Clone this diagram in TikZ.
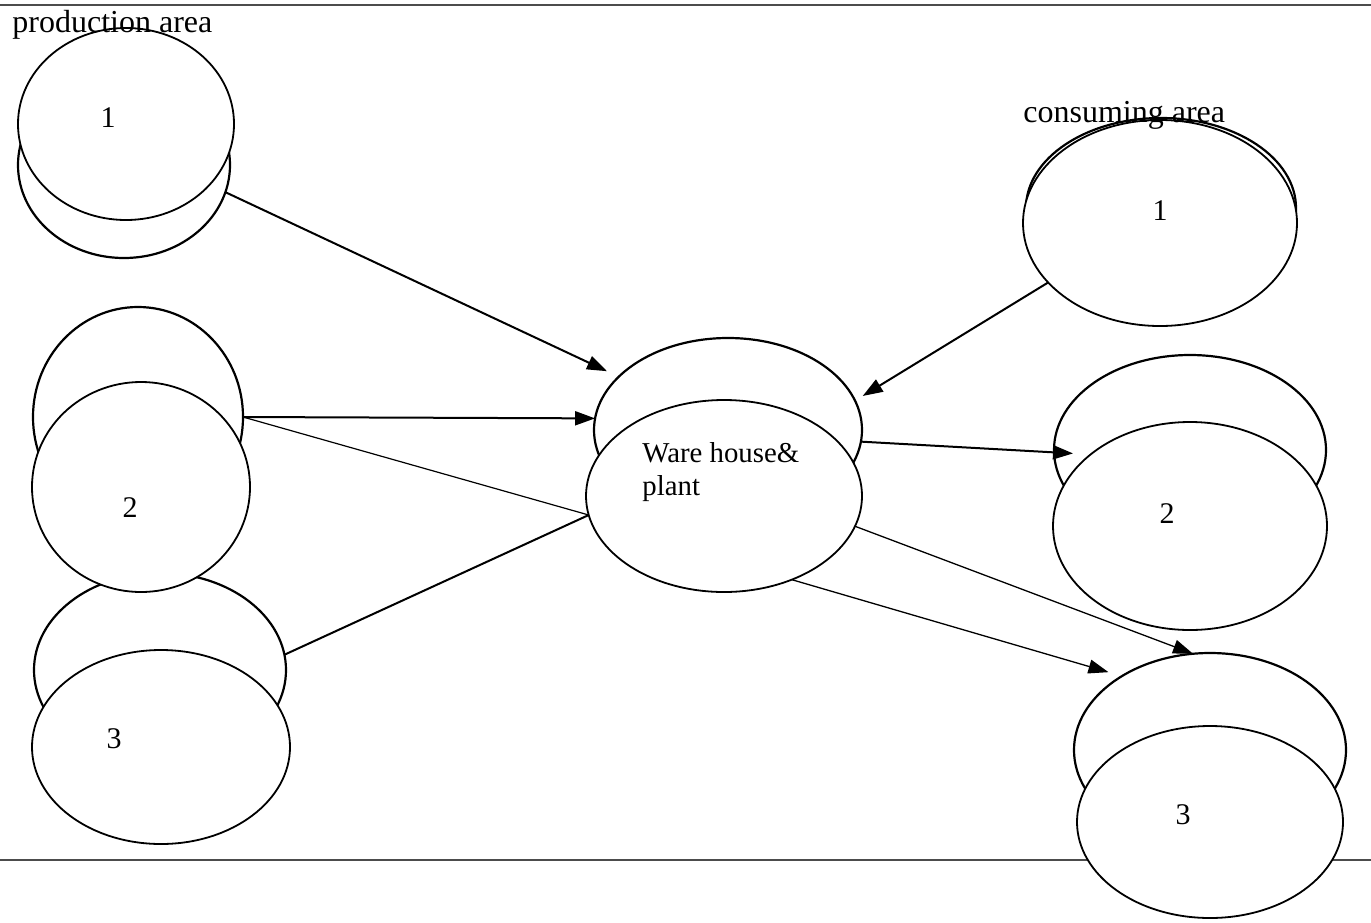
\documentclass[tikz,border=0pt]{standalone}
\usepackage{fontspec}
\setmainfont{Liberation Serif}
\usetikzlibrary{shapes.geometric,arrows.meta}

\begin{document}
\begin{tikzpicture}[x=0.5pt,y=-0.5pt,
  backdisc/.style={ellipse, draw, line width=1.1pt, inner sep=0pt, outer sep=0pt},
  frontdisc/.style={ellipse, draw, fill=white, line width=0.9pt, inner sep=0pt, outer sep=0pt},
  num/.style={anchor=base, inner sep=0pt, font=\fontsize{15}{18}\selectfont},
  areatitle/.style={anchor=base west, inner sep=0pt, font=\fontsize{16}{19}\selectfont},
  flow/.style={line width=1pt, -{Triangle[length=10pt,width=7pt]}},
  thinflow/.style={line width=0.65pt, -{Triangle[length=10pt,width=7pt]}},
  link/.style={line width=1pt},
  thinlink/.style={line width=0.6pt},
  rule/.style={line width=0.75pt, draw=black!70}
]
\useasboundingbox (0,0) rectangle (1371,922);

% horizontal rules framing the figure
\coordinate (tl) at (0,5);   \coordinate (tr) at (1371,5);
\coordinate (bl) at (0,860); \coordinate (br) at (1371,860);
\draw[rule] (tl) -- (tr);
\draw[rule] (bl) -- (br);

% production areas (left)
\node[backdisc,  minimum width=106pt, minimum height=93pt]  (p1b) at (124,165) {};
\node[frontdisc, minimum width=108pt, minimum height=96pt]  (p1f) at (126,124) {};
\node[backdisc,  minimum width=105pt, minimum height=110pt] (p2b) at (138,417) {};
\node[backdisc,  minimum width=126pt, minimum height=97pt]  (p3b) at (160,670) {};
\node[frontdisc, minimum width=129pt, minimum height=97pt]  (p3f) at (161,747) {};
\node[frontdisc, minimum width=109pt, minimum height=105pt] (p2f) at (141,487) {};

% warehouse and plant (centre)
\node[backdisc,  minimum width=134pt, minimum height=92pt]  (mb) at (728,430) {};
\node[frontdisc, minimum width=138pt, minimum height=96pt]  (mf) at (724,496) {};

% consuming areas (right)
\node[backdisc,  minimum width=135pt, minimum height=90pt]  (c1b) at (1161,208) {};
\node[frontdisc, minimum width=137pt, minimum height=103pt] (c1f) at (1160,223) {};
\node[backdisc,  minimum width=136pt, minimum height=95pt]  (c2b) at (1190,450) {};
\node[frontdisc, minimum width=137pt, minimum height=104pt] (c2f) at (1190,526) {};
\node[backdisc,  minimum width=136pt, minimum height=97pt]  (c3b) at (1210,750) {};
\node[frontdisc, minimum width=133pt, minimum height=96pt]  (c3f) at (1210,822) {};

% flows
\draw[flow, shorten >=6.5pt] (p1b.-15) -- (mb.154);
\draw[flow] (p2b.east) -- (mb.175);
\draw[thinlink] (p2b.east) -- (mf.188);
\draw[link] (p3b.7) -- (mf.188);
\draw[flow, shorten >=4.5pt] (c1f.208) -- (mb.13);
\draw[flow, shorten >=-9.5pt] (mb.-5) -- (c2b.181);
\draw[thinflow] (mf.-13) -- (c3b.100);
\draw[thinflow, shorten >=7pt] (mf.-51) -- (c3b.140);

% labels
\node[areatitle] (prodtitle) at (12,32) {production area};
\node[areatitle] (constitle) at (1023,122) {consuming area};
\node[num] (p1n) at (108,127) {1};
\node[num] (p2n) at (130,517) {2};
\node[num] (p3n) at (114,748) {3};
\node[num] (c1n) at (1160,220) {1};
\node[num] (c2n) at (1167,523) {2};
\node[num] (c3n) at (1183,824) {3};
\node[anchor=north west, inner sep=0pt, align=left,
      font=\fontsize{14.4}{16.5}\selectfont] (mtext) at (642,442) {Ware house\&\\plant};
\end{tikzpicture}
\end{document}
